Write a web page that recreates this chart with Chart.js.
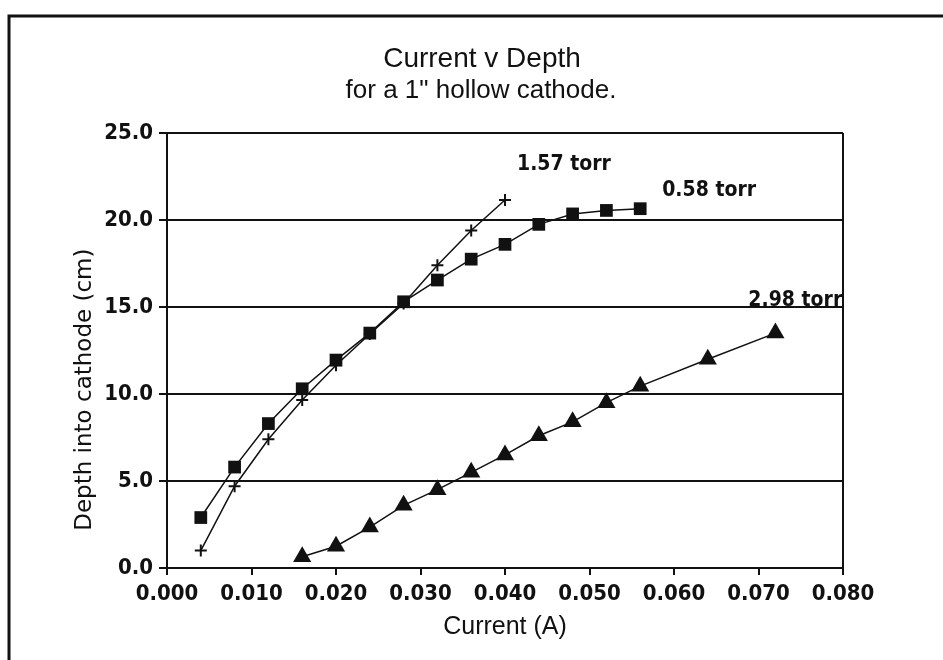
<!DOCTYPE html>
<html>
<head>
<meta charset="utf-8">
<title>Current v Depth</title>
<script src="https://cdn.jsdelivr.net/npm/chart.js@4/dist/chart.umd.min.js"></script>
<style>
  html, body { margin: 0; padding: 0; background: #ffffff; }
  #wrap { width: 943px; height: 660px; }
</style>
</head>
<body>
<div id="wrap"><canvas id="chart" width="943" height="660"></canvas></div>
<script>
// Current (A) and depth into cathode (cm) for each gas pressure
const current058 = [0.004, 0.008, 0.012, 0.016, 0.020, 0.024, 0.028, 0.032, 0.036, 0.040, 0.044, 0.048, 0.052, 0.056];
const depth058   = [2.9, 5.8, 8.3, 10.3, 11.95, 13.5, 15.3, 16.55, 17.75, 18.6, 19.75, 20.35, 20.55, 20.65];

const current157 = [0.004, 0.008, 0.012, 0.016, 0.020, 0.024, 0.028, 0.032, 0.036, 0.040];
const depth157   = [1.0, 4.7, 7.4, 9.65, 11.65, 13.45, 15.2, 17.4, 19.4, 21.15];

const current298 = [0.016, 0.020, 0.024, 0.028, 0.032, 0.036, 0.040, 0.044, 0.048, 0.052, 0.056, 0.064, 0.072];
const depth298   = [0.65, 1.25, 2.35, 3.6, 4.5, 5.5, 6.5, 7.6, 8.4, 9.5, 10.45, 12.0, 13.5];

const seriesNames = ['0.58 torr', '1.57 torr', '2.98 torr'];
const titleLines = ['Current v Depth', 'for a 1" hollow cathode.'];
const xTitle = 'Current (A)';
const yTitle = 'Depth into cathode (cm)';

const INK = '#111111';
const NARROW = "'Liberation Sans Narrow', 'DejaVu Sans Condensed', 'Liberation Sans', sans-serif";
const PLAIN = "'Liberation Sans', Arial, sans-serif";
const WIDE = "'DejaVu Sans', 'Liberation Sans', sans-serif";

function pairs(xs, ys) { return xs.map((x, i) => ({ x: x, y: ys[i] })); }

// Page frame, plot box, titles and series labels
const decorations = {
  id: 'decorations',
  beforeDraw(chart) {
    const ctx = chart.ctx;
    ctx.save();
    ctx.fillStyle = '#ffffff';
    ctx.fillRect(0, 0, chart.width, chart.height);
    ctx.strokeStyle = INK;
    ctx.lineWidth = 3;
    ctx.beginPath();
    ctx.moveTo(9, chart.height);
    ctx.lineTo(9, 16);
    ctx.lineTo(chart.width, 16);
    ctx.stroke();
    ctx.restore();
  },
  afterDraw(chart) {
    const ctx = chart.ctx;
    const a = chart.chartArea;
    const xs = chart.scales.x, ys = chart.scales.y;
    ctx.save();
    ctx.strokeStyle = INK;
    ctx.lineWidth = 2;
    ctx.beginPath();
    ctx.moveTo(a.right, a.top);
    ctx.lineTo(a.right, a.bottom);
    ctx.stroke();

    ctx.fillStyle = INK;
    ctx.textAlign = 'center';
    ctx.textBaseline = 'middle';
    ctx.font = '28px ' + PLAIN;
    ctx.fillText(titleLines[0], 482, 59);
    ctx.font = '26px ' + PLAIN;
    ctx.fillText(titleLines[1], 481, 91);

    // rotated y-axis title
    ctx.save();
    ctx.translate(a.left - 82, a.top + a.height * 0.59);
    ctx.rotate(-Math.PI / 2);
    ctx.font = '23px ' + WIDE;
    ctx.fillText(yTitle, 0, 0);
    ctx.restore();

    // series labels next to their curves
    ctx.font = 'bold 21px ' + NARROW;
    ctx.textAlign = 'left';
    const last157 = current157.length - 1;
    ctx.fillText(seriesNames[1], xs.getPixelForValue(current157[last157]) + 12, ys.getPixelForValue(depth157[last157]) - 35);
    const last058 = current058.length - 1;
    ctx.fillText(seriesNames[0], xs.getPixelForValue(current058[last058]) + 22, ys.getPixelForValue(depth058[last058]) - 18);
    ctx.textBaseline = 'alphabetic';
    ctx.fillText(seriesNames[2], xs.getPixelForValue(0.0688), ys.getPixelForValue(15) - 1);
    ctx.restore();
  }
};

new Chart(document.getElementById('chart'), {
  type: 'scatter',
  data: {
    datasets: [
      {
        label: seriesNames[0],
        data: pairs(current058, depth058),
        showLine: true,
        borderColor: INK,
        borderWidth: 1.5,
        backgroundColor: INK,
        pointStyle: 'rect',
        pointRadius: 9,
        pointBorderWidth: 0,
        pointBackgroundColor: INK
      },
      {
        label: seriesNames[1],
        data: pairs(current157, depth157),
        showLine: true,
        borderColor: INK,
        borderWidth: 1.5,
        backgroundColor: INK,
        pointStyle: 'cross',
        pointRadius: 6,
        pointBorderWidth: 2,
        pointBorderColor: INK
      },
      {
        label: seriesNames[2],
        data: pairs(current298, depth298),
        showLine: true,
        borderColor: INK,
        borderWidth: 1.5,
        backgroundColor: INK,
        pointStyle: 'triangle',
        pointRadius: 10.5,
        pointBorderWidth: 0,
        pointBackgroundColor: INK
      }
    ]
  },
  options: {
    responsive: false,
    animation: false,
    devicePixelRatio: 1,
    layout: { padding: { top: 133, right: 100, left: 0, bottom: 14 } },
    plugins: {
      legend: { display: false },
      tooltip: { enabled: false },
      title: { display: false }
    },
    elements: { line: { tension: 0 } },
    scales: {
      x: {
        type: 'linear',
        min: 0,
        max: 0.08,
        afterFit(scale) { scale.height = 78; },
        ticks: {
          stepSize: 0.01,
          color: INK,
          padding: 6,
          font: { family: NARROW, size: 22, weight: 'bold' },
          callback: v => Number(v).toFixed(3),
          maxRotation: 0,
          autoSkip: false
        },
        grid: { drawOnChartArea: false, drawTicks: true, tickLength: 7, color: INK, lineWidth: 2 },
        border: { display: true, color: INK, width: 2 },
        title: { display: true, text: xTitle, color: INK, font: { family: PLAIN, size: 25 }, padding: { top: 2, bottom: 4 } }
      },
      y: {
        type: 'linear',
        min: 0,
        max: 25,
        afterFit(scale) { scale.width = 167; },
        ticks: {
          stepSize: 5,
          color: INK,
          padding: 6,
          font: { family: NARROW, size: 22, weight: 'bold' },
          callback: v => Number(v).toFixed(1)
        },
        grid: { drawOnChartArea: true, drawTicks: true, tickLength: 8, color: INK, lineWidth: 2 },
        border: { display: true, color: INK, width: 2 }
      }
    }
  },
  plugins: [decorations]
});
</script>
</body>
</html>
